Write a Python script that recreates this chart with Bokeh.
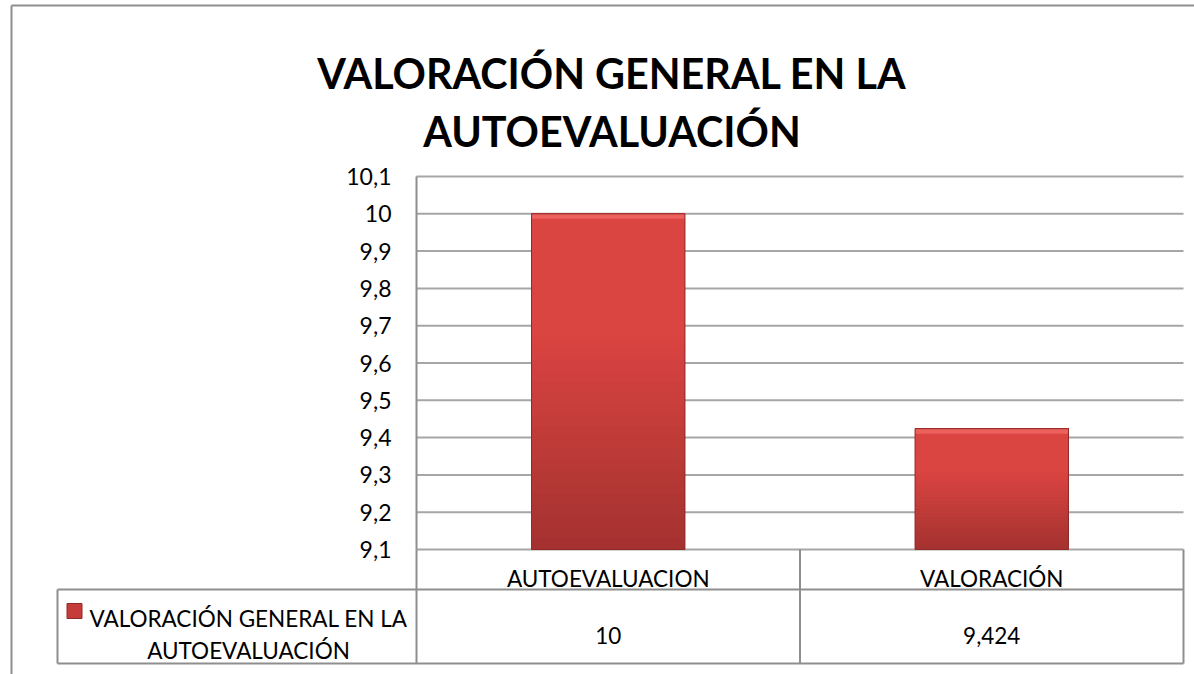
from bokeh.plotting import figure
from bokeh.models import Range1d, FixedTicker, CustomJSTickFormatter
from bokeh.core.properties import value
from bokeh.embed import file_html
from bokeh.resources import INLINE

# ---- data ----
categories = ["AUTOEVALUACION", "VALORACIÓN"]
values = [10, 9.424]
value_labels = ["10", "9,424"]
series_lines = ["VALORACIÓN GENERAL EN LA", "AUTOEVALUACIÓN"]
title_lines = ["VALORACIÓN GENERAL EN LA", "AUTOEVALUACIÓN"]
y_ticks = [9.1, 9.2, 9.3, 9.4, 9.5, 9.6, 9.7, 9.8, 9.9, 10.0, 10.1]
Y_MIN, Y_MAX = 9.1, 10.1

# ---- layout (page pixels) ----
W, H = 1194, 674
M = 0
PA_L, PA_R, PA_T, PA_B = 416, 1183, 176, 549
n = len(categories)
XS = (PA_R - PA_L) / n
YS = (PA_B - PA_T) / (Y_MAX - Y_MIN)


def dx(px):
    return (px - PA_L) / XS


def dy(py):
    return Y_MAX - (py - PA_T) / YS


FONT = "Lato"
GRID = "#a6a6a6"
LINE = "#8e8e8e"

p = figure(width=W, height=H,
           x_range=Range1d(dx(M), dx(M + W)),
           y_range=Range1d(dy(M + H), dy(M)),
           output_backend="svg", toolbar_location=None,
           x_axis_location=None, y_axis_location="left",
           min_border=0, min_border_left=0, min_border_right=0,
           min_border_top=0, min_border_bottom=0)
p.outline_line_color = None
p.xgrid.visible = False
p.ygrid.visible = False
p.background_fill_color = "white"
p.border_fill_color = "white"

ax = p.yaxis[0]
ax.fixed_location = 0
ax.bounds = (Y_MIN, Y_MAX)
ax.ticker = FixedTicker(ticks=y_ticks)
ax.formatter = CustomJSTickFormatter(code="""
const r = Math.round(tick);
if (Math.abs(tick - r) < 1e-6) { return String(r); }
return tick.toFixed(1).replace('.', ',');
""")
ax.major_tick_out = 0
ax.major_tick_in = 0
ax.minor_tick_out = 0
ax.minor_tick_in = 0
ax.axis_line_color = LINE
ax.axis_line_width = 2
ax.major_label_text_font = FONT
ax.major_label_text_font_size = "23px"
ax.major_label_text_color = "black"
ax.major_label_standoff = 25

# gridlines across plot area only
p.segment(x0=[0] * len(y_ticks), x1=[n] * len(y_ticks), y0=y_ticks, y1=y_ticks,
          line_color=GRID, line_width=2)

# bars with stepped vertical gradient
xc = [i + 0.5 for i in range(n)]
BW = 0.4
c_bot = (165, 50, 48)
c_top = (218, 68, 65)
N = 30
for k in range(N):
    f = k / N
    col = tuple(int(round(c_bot[j] + (c_top[j] - c_bot[j]) * min(1.0, f * 1.6))) for j in range(3))
    bottoms = [Y_MIN + f * (v - Y_MIN) for v in values]
    p.vbar(x=xc, bottom=bottoms, top=values, width=BW,
           fill_color="#%02x%02x%02x" % col, line_color=None)
# top bevel highlight
p.vbar(x=xc, bottom=[v - 5 / YS for v in values], top=values, width=BW,
       fill_color="#ec615d", line_color=None)
p.vbar(x=xc, bottom=Y_MIN, top=values, width=BW, fill_color=None,
       line_color="#8f2a28", line_width=1)

# ---- data table ----
ROW1_B, ROW2_B, LEG_L = 589, 663, 57
p.segment(x0=[dx(LEG_L), dx(LEG_L)], x1=[n, n], y0=[dy(ROW1_B), dy(ROW2_B)],
          y1=[dy(ROW1_B), dy(ROW2_B)], line_color=LINE, line_width=2)
vx = list(range(n + 1))
p.segment(x0=vx, x1=vx, y0=[Y_MIN] * len(vx), y1=[dy(ROW2_B)] * len(vx),
          line_color=LINE, line_width=2)
p.segment(x0=[dx(LEG_L)], x1=[dx(LEG_L)], y0=[dy(ROW1_B)], y1=[dy(ROW2_B)],
          line_color=LINE, line_width=2)

p.text(x=xc, y=[dy(578)] * n, text=categories, text_align="center",
       text_baseline="alphabetic", text_font=value(FONT),
       text_font_size=value("22.5px"), text_color="black")
p.text(x=xc, y=[dy(635)] * n, text=value_labels, text_align="center",
       text_baseline="alphabetic", text_font=value(FONT),
       text_font_size=value("22.5px"), text_color="black")

# legend key in table
p.scatter(x=[dx(74)], y=[dy(610.5)], marker="square", size=15,
          fill_color="#c63c3a", line_color="#8f2a28", line_width=1)
p.text(x=[dx(248), dx(248)], y=[dy(618), dy(650)], text=series_lines,
       text_align="center", text_baseline="alphabetic", text_font=value(FONT),
       text_font_size=value("22.5px"), text_color="black")

# ---- title ----
p.text(x=[dx(611.5), dx(611.5)], y=[dy(72), dy(130)], text=title_lines,
       text_align="center", text_baseline="alphabetic", text_font=value(FONT),
       text_font_style="bold", text_font_size=value("41.3px"), text_color="black")

# ---- chart border ----
p.segment(x0=[dx(11), dx(11)], x1=[dx(11), dx(M + W)], y0=[dy(M + H), dy(5)],
          y1=[dy(5), dy(5)], line_color=LINE, line_width=2)

open("out.html", "w").write(file_html(p, INLINE))
